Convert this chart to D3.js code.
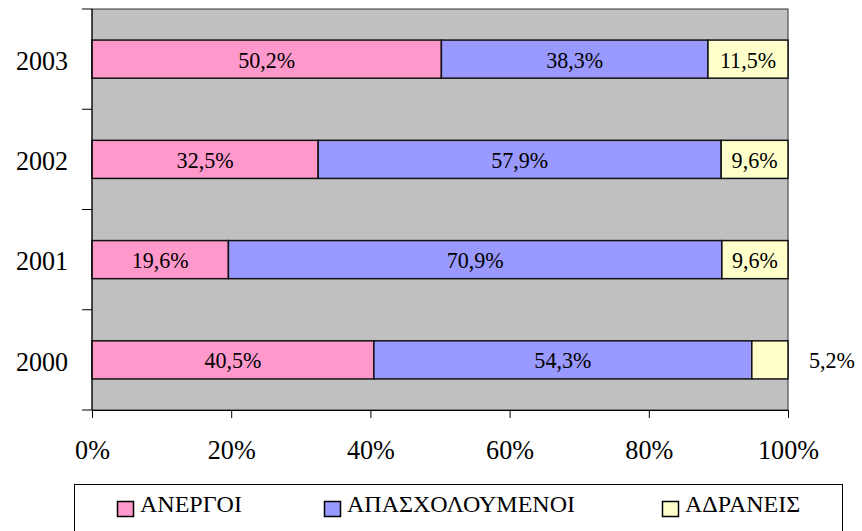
<!DOCTYPE html>
<html>
<head>
<meta charset="utf-8">
<script src="https://cdn.jsdelivr.net/npm/d3@7"></script>
<style>
  body { margin: 0; background: #fff; }
  text { font-family: "Liberation Serif", "Times New Roman", serif; fill: #000; }
</style>
</head>
<body>
<svg id="chart" width="862" height="531"></svg>
<script>
// Categories, top to bottom
const years = ["2003", "2002", "2001", "2000"];
const seriesNames = ["ΑΝΕΡΓΟΙ", "ΑΠΑΣΧΟΛΟΥΜΕΝΟΙ", "ΑΔΡΑΝΕΙΣ"];
const anergoi = [50.2, 32.5, 19.6, 40.5];
const apasxoloumenoi = [38.3, 57.9, 70.9, 54.3];
const adraneis = [11.5, 9.6, 9.6, 5.2];
const xTicks = [0, 20, 40, 60, 80, 100];

const colors = ["#FF99CC", "#9999FF", "#FFFFCC"];
const svg = d3.select("#chart");

const plotL = 92, plotR = 788, plotT = 9, plotB = 410;

const x = d3.scaleLinear().domain([0, 100]).range([plotL, plotR]);
const y = d3.scaleBand().domain(years).range([plotT, plotB]).paddingInner(0.62).paddingOuter(0.31);

// plot area
svg.append("rect")
  .attr("x", plotL).attr("y", plotT)
  .attr("width", plotR - plotL).attr("height", plotB - plotT)
  .attr("fill", "#C0C0C0")
  .attr("stroke", "#333").attr("stroke-width", 1);

// stack the series per year
const rows = years.map((yr, i) => {
  const vals = [anergoi[i], apasxoloumenoi[i], adraneis[i]];
  let acc = 0;
  return vals.map((v, k) => {
    const x0 = acc;
    acc = Math.min(100, acc + v);
    return { year: yr, k, v, x0, x1: acc };
  });
});

const segs = rows.flat();
svg.append("g").selectAll("rect")
  .data(segs).enter().append("rect")
  .attr("x", d => x(d.x0))
  .attr("y", d => y(d.year))
  .attr("width", d => x(d.x1) - x(d.x0))
  .attr("height", y.bandwidth())
  .attr("fill", d => colors[d.k])
  .attr("stroke", "#111").attr("stroke-width", 1.5);

// the reference font is a little condensed, so squeeze the text horizontally
const fmt = v => d3.format(".1f")(v).replace(".", ",") + "%";
svg.append("g").selectAll("text")
  .data(segs).enter().append("text")
  .attr("transform", d => {
    const tx = d.v < 7 ? 832 : x((d.x0 + d.x1) / 2);
    return `translate(${tx},${y(d.year) + y.bandwidth() / 2}) scale(0.92,1)`;
  })
  .attr("dy", "0.35em")
  .attr("text-anchor", "middle")
  .attr("font-size", 24)
  .text(d => fmt(d.v));

// left axis
const yTicks = [plotT, ...years.map(yr => y(yr) + y.bandwidth() / 2 + y.step() / 2)];
svg.append("line").attr("x1", plotL).attr("x2", plotL).attr("y1", plotT).attr("y2", plotB)
  .attr("stroke", "#000");
svg.append("g").selectAll("line")
  .data(yTicks).enter().append("line")
  .attr("x1", plotL - 10).attr("x2", plotL)
  .attr("y1", d => d).attr("y2", d => d)
  .attr("stroke", "#000");
svg.append("g").selectAll("text")
  .data(years).enter().append("text")
  .attr("transform", d => `translate(68,${y(d) + y.bandwidth() / 2 + 1}) scale(0.93,1)`)
  .attr("dy", "0.35em").attr("text-anchor", "end")
  .attr("font-size", 28)
  .text(d => d);

// bottom axis
const xAxis = d3.axisBottom(x).tickValues(xTicks).tickSize(8).tickFormat(d => d + "%");
const gx = svg.append("g").attr("transform", `translate(0,${plotB})`).call(xAxis);
gx.select(".domain").attr("stroke", "#000");
gx.selectAll(".tick line").attr("stroke", "#000");
gx.selectAll(".tick text")
  .attr("y", 0).attr("dy", "0.71em")
  .attr("transform", "translate(0,30) scale(0.97,1)")
  .attr("font-size", 27)
  .attr("font-family", "Liberation Serif, Times New Roman, serif")
  .attr("fill", "#000");

// legend
svg.append("rect")
  .attr("x", 74.5).attr("y", 484.5).attr("width", 768).attr("height", 60)
  .attr("fill", "#fff").attr("stroke", "#000");
const legX = [117, 324, 662];
const lg = svg.append("g").selectAll("g")
  .data(seriesNames).enter().append("g")
  .attr("transform", (d, i) => `translate(${legX[i]},501)`);
lg.append("rect")
  .attr("x", 0.5).attr("y", 0.5).attr("width", 16).attr("height", 15)
  .attr("fill", (d, i) => colors[i]).attr("stroke", "#000").attr("stroke-width", 1.5);
lg.append("text")
  .attr("x", 23).attr("y", 11)
  .attr("font-size", 24)
  .text(d => d);
</script>
</body>
</html>
